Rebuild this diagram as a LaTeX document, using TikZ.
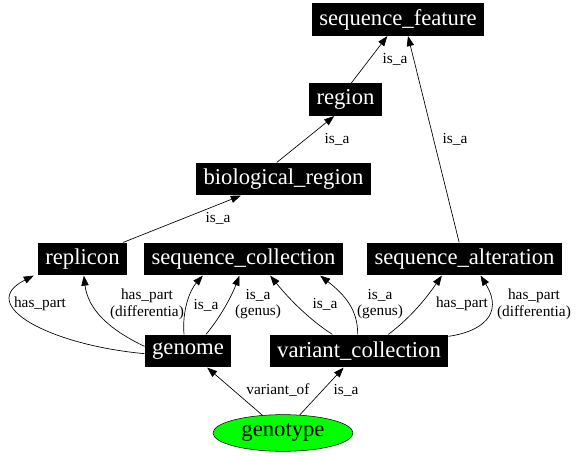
\documentclass[tikz,border=0pt]{standalone}
\usepackage{fontspec}
\setmainfont{Liberation Serif}
\usetikzlibrary{arrows.meta,shapes.geometric}
\begin{document}
\begin{tikzpicture}[x=0.75pt,y=-0.75pt,
  box/.style={fill=black,text=white,inner xsep=5.5pt,inner ysep=0pt,minimum height=24.5pt,font=\fontsize{17}{20}\selectfont},
  lab/.style={font=\fontsize{11.5}{12.5}\selectfont,inner sep=0pt,align=center},
  edge/.style={-{Triangle[length=7.5pt,width=5.5pt]},line width=0.5pt}]
\useasboundingbox (0,0) rectangle (576,456);
\node[box] (sf) at (398,19.5) {sequence\_feature};
\node[box] (reg) at (345.5,99.5) {region};
\node[box] (bio) at (283.5,179) {biological\_region};
\node[box] (rep) at (82.5,259) {replicon};
\node[box] (sc) at (243.5,259) {sequence\_collection};
\node[box] (sa) at (464.5,259) {sequence\_alteration};
\node[box] (gen) at (188,351) {genome};
\node[box] (vc) at (359,351) {variant\_collection};
\node[ellipse,draw=black,fill=green,minimum width=105pt,minimum height=27.5pt,inner sep=0pt,font=\fontsize{17}{20}\selectfont] (gt) at (283,433) {genotype};

\draw[edge] ([xshift=-23pt]reg.north east) -- ([xshift=-8pt]sf.south);
\draw[edge] ([xshift=-5pt]bio.north) -- ([xshift=-8.5pt]reg.south);
\draw[edge] ([xshift=-4pt]sa.north) -- ([xshift=7.5pt]sf.south);
\draw[edge] ([xshift=-3pt]rep.north east) -- ([xshift=-32pt]bio.south);

\draw[edge] ([yshift=-2pt]gen.west) .. controls (50,345) and (-25,305) .. ([xshift=-3pt]rep.south west);
\draw[edge] ([yshift=3.5pt]gen.west) .. controls (110,330) and (88,310) .. ([xshift=1pt]rep.south);
\draw[edge] ([xshift=-3pt]gen.north) .. controls (182,310) and (190,290) .. ([xshift=-30.5pt]sc.south);
\draw[edge] ([xshift=13.5pt]gen.north) .. controls (222,315) and (232,295) .. ([xshift=-3pt]sc.south);
\draw[edge] ([xshift=-20pt]vc.north) .. controls (310,320) and (290,300) .. ([xshift=20pt]sc.south);
\draw[edge] ([xshift=-1pt]vc.north) .. controls (358,310) and (345,295) .. ([xshift=57.5pt]sc.south);
\draw[edge] ([xshift=22pt]vc.north) .. controls (410,318) and (425,300) .. ([xshift=-17pt]sa.south);
\draw[edge] ([yshift=11pt]vc.east) .. controls (480,332) and (505,315) .. ([xshift=12pt]sa.south);

\draw[edge] (gt) -- (gen);
\draw[edge] (gt) -- (vc);

\node[lab] (l1) at (395,59) {is\_a};
\node[lab] (l2) at (337,139) {is\_a};
\node[lab] (l3) at (455,139) {is\_a};
\node[lab] (l4) at (218,218) {is\_a};
\node[lab] (l5) at (40,304) {has\_part};
\node[lab] (l6) at (147,304) {has\_part\\(differentia)};
\node[lab] (l7) at (206,305) {is\_a};
\node[lab] (l8) at (258,304) {is\_a\\(genus)};
\node[lab] (l9) at (325,304) {is\_a};
\node[lab] (l10) at (380,304) {is\_a\\(genus)};
\node[lab] (l11) at (462,304) {has\_part};
\node[lab] (l12) at (534,304) {has\_part\\(differentia)};
\node[lab] (l13) at (278,390) {variant\_of};
\node[lab] (l14) at (346,390) {is\_a};
\end{tikzpicture}
\end{document}
